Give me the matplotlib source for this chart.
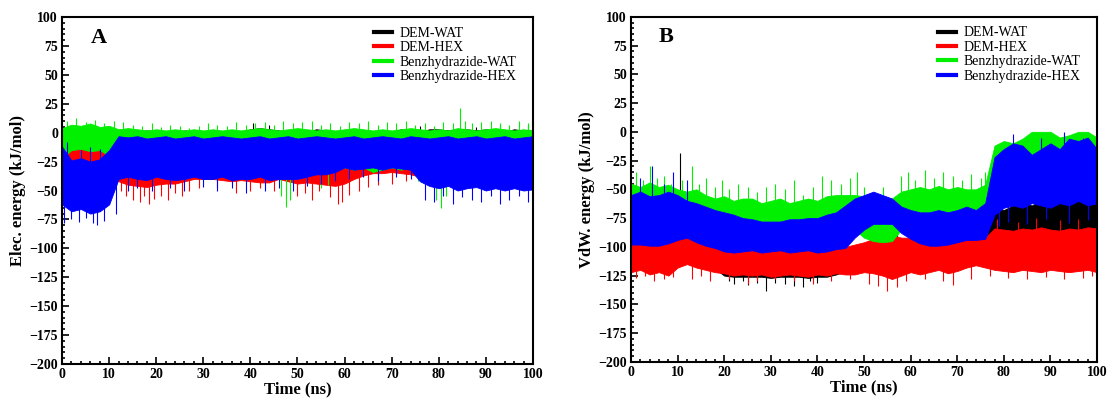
"""Electrostatic and VdW interaction energies over 100 ns MD runs."""

import matplotlib.pyplot as plt
import numpy as np
from matplotlib.ticker import MultipleLocator

plt.rcParams["font.family"] = ["Liberation Serif", "DejaVu Serif"]

# time grid (ns) shared by every envelope below
TIME_NS = list(range(0, 101, 2))

LABELS = ["DEM-WAT", "DEM-HEX", "Benzhydrazide-WAT", "Benzhydrazide-HEX"]
COLORS = ["#000000", "#ff0000", "#00f000", "#0000ff"]

# ---- panel A: electrostatic energy, dense band (lo/hi) + single spikes ----
ELEC_WAT_DEM_HI = [1, 2, 3, 2, 3, 3, 2, 3, 1, 2, 1, 0, 1, 2, 1, 0, 0, 1, 2, 1,
                   3, 4, 3, 2, 1, 2, 1, 3, 2, 1, 2, 1, 0, 1, 2, 1, 3, 2, 1, 3,
                   3, 2, 3, 3, 2, 3, 2, 1, 3, 2, 2]
ELEC_WAT_DEM_LO = [-30] * 51
ELEC_WAT_DEM_SPK_T = [40.5, 44, 65, 76, 88, 93, 99]
ELEC_WAT_DEM_SPK_V = [8, 7, 5, 6, 5, 6, 7]

ELEC_HEX_DEM_HI = [-8, -10, -8, -9, -7, -6, -4, -3, -4, -3, -4, -3, -3, -4,
                   -3, -3, -4, -3, -3, -4, -3, -3, -4, -3, -3, -4, -3, -3, -4,
                   -3, -3, -4, -3, -3, -4, -3, -3, -4, -3, -6, -8, -3, -4, -3,
                   -3, -4, -3, -5, -3, -4, -5]
ELEC_HEX_DEM_LO = [-38, -35, -40, -36, -38, -30, -42, -45, -46, -47, -45, -44,
                   -44, -42, -40, -40, -40, -41, -42, -41, -42, -43, -43, -40,
                   -42, -44, -43, -44, -45, -46, -44, -40, -37, -35, -35, -34,
                   -35, -36, -38, -40, -42, -40, -44, -42, -40, -44, -42, -42,
                   -44, -43, -40]
ELEC_HEX_DEM_SPK_T = [2.5, 5.5, 8.5, 9.3,
                      12.5, 13.5, 15, 16.5, 17.5, 18.5, 19.5, 21, 22.5, 24,
                      25.5, 27, 29, 33, 37, 40, 42, 45, 50, 51.5, 53, 54.5,
                      57, 58.5, 59.5, 61, 63, 65, 67, 70, 73]
ELEC_HEX_DEM_SPK_V = [-28, -30, -35, -33,
                      -50, -55, -58, -60, -55, -62, -57, -55, -58, -52, -55,
                      -50, -48, -47, -52, -50, -48, -50, -55, -52, -58, -50,
                      -56, -62, -60, -54, -50, -47, -45, -44, -42]

ELEC_WAT_BZ_HI = [4, 7, 6, 8, 5, 6, 3, 4, 3, 2, 3, 2, 3, 2, 3, 2, 3, 2, 3, 2,
                  3, 4, 3, 2, 3, 4, 3, 2, 3, 2, 3, 4, 3, 2, 3, 2, 3, 4, 3, 2,
                  3, 2, 4, 3, 2, 3, 4, 3, 2, 3, 2]
ELEC_WAT_BZ_LO = [-22, -15, -14, -16, -15, -20, -30, -32, -30, -32, -30, -32,
                  -30, -32, -30, -34, -32, -30, -32, -34, -30, -32, -30, -38,
                  -40, -32, -30, -35, -34, -32, -30, -32, -30, -34, -32, -30,
                  -32, -30, -36, -38, -42, -38, -32, -30, -32, -34, -30, -32,
                  -30, -32, -30]
ELEC_WAT_BZ_SPK_T = [1, 3, 5, 7, 9, 11, 13, 15, 17, 19, 21, 23, 25, 27, 29,
                     31, 33, 35, 37, 39, 41, 43, 45, 47, 49, 51, 53, 55, 57,
                     59, 61, 63, 65, 67, 69, 71, 73, 75, 77, 79, 81, 83, 84.5,
                     85.5, 87, 89, 91, 93, 95, 97, 99,
                     46.5, 47.5, 48.5, 55, 56.5, 75.5, 79.5, 80.5, 81.5, 83,
                     86]
ELEC_WAT_BZ_SPK_V = [10, 13, 9, 11, 8, 10, 9, 7, 6, 8, 5, 7, 6, 4, 6, 8, 7,
                     6, 9, 7, 8, 9, 7, 10, 8, 9, 10, 7, 8, 6, 9, 8, 10, 7, 9,
                     8, 10, 7, 8, 6, 9, 8, 21, 10, 8, 9, 10, 8, 7, 10, 8,
                     -55, -64, -58, -48, -45, -42, -58, -65, -55, -50, -45]

ELEC_HEX_BZ_HI = [-12, -24, -22, -25, -23, -15, -3, -4, -3, -5, -4, -3, -5,
                  -4, -3, -5, -4, -3, -4, -5, -4, -3, -5, -4, -3, -5, -4, -3,
                  -4, -5, -4, -3, -5, -4, -3, -4, -5, -3, -4, -5, -4, -3, -5,
                  -4, -3, -5, -4, -3, -5, -4, -3]
ELEC_HEX_BZ_LO = [-62, -68, -66, -70, -68, -62, -40, -38, -40, -41, -38, -40,
                  -41, -40, -38, -40, -40, -38, -41, -40, -40, -38, -41, -40,
                  -40, -40, -38, -36, -36, -34, -30, -32, -31, -30, -32, -30,
                  -31, -32, -42, -46, -48, -46, -50, -48, -47, -50, -48, -50,
                  -48, -50, -49]
ELEC_HEX_BZ_SPK_T = [0.5, 2, 3.5, 5, 6.5, 7.5, 9, 11.5, 14, 16, 19, 23, 26,
                     30, 33, 36, 39, 43, 46, 49, 52, 55, 58, 61, 64, 67, 71,
                     74, 77, 79, 81, 83, 85, 87, 89, 91, 93, 95, 97, 99,
                     1, 4, 6, 8]
ELEC_HEX_BZ_SPK_V = [-78, -75, -77, -74, -78, -80, -76, -70, -50, -48, -50,
                     -48, -50, -47, -50, -48, -52, -50, -48, -50, -46, -44,
                     -42, -40, -38, -42, -38, -40, -58, -60, -55, -62, -56,
                     -58, -60, -55, -62, -58, -55, -60,
                     -8, -15, -12, -14]

# ---- panel B: VdW energy ----
VDW_WAT_DEM_HI = [-100, -100, -101, -100, -100, -96, -96, -99, -101, -103,
                  -106, -106, -106, -106, -106, -106, -106, -106, -106, -106,
                  -106, -106, -106, -106,
                  -103, -100, -97, -94, -94, -96, -97, -100, -100, -100, -99,
                  -97, -96, -96, -95,
                  -66, -68, -64, -62, -64, -60, -58, -56, -60, -54, -58, -56]
VDW_WAT_DEM_LO = [-119, -117, -121, -119, -122, -115, -112, -115, -117, -119,
                  -125, -126, -126, -126, -126, -127, -126, -126, -126, -127,
                  -126, -126, -124, -121,
                  -121, -119, -120, -122, -125, -122, -119, -121, -119, -117,
                  -120, -118, -115, -113, -115,
                  -112, -112, -112, -112, -112, -112, -112, -112, -112, -112,
                  -112, -112]
VDW_WAT_DEM_SPK_T = [10.5, 21, 22, 24, 25, 27, 29, 31, 33, 35, 37, 38.5, 40,
                     57, 79, 84, 90, 95, 97, 99]
VDW_WAT_DEM_SPK_V = [-18, -130, -132, -130, -133, -131, -138, -131, -132,
                     -134, -135, -130, -131, -58, -55, -52, -50, -45, -50,
                     -48]

VDW_HEX_DEM_HI = [-97, -97, -98, -98, -96, -93, -91, -95, -98, -100,
                  -103, -104, -103, -102, -104, -103, -102, -104, -103, -102,
                  -104, -103, -101, -100,
                  -98, -96, -93, -90, -90, -92, -92, -96, -98, -98, -97, -95,
                  -93, -93, -92,
                  -84, -85, -86, -84, -85, -83, -85, -86, -84, -85, -83, -84]
VDW_HEX_DEM_LO = [-122, -120, -124, -122, -125, -118, -115, -118, -120, -122,
                  -123, -125, -124, -125, -124, -126, -125, -124, -125, -126,
                  -124, -125, -123, -124,
                  -124, -122, -123, -125, -128, -125, -122, -124, -122, -120,
                  -123, -121, -118, -116, -118,
                  -120, -121, -122, -120, -121, -122, -120, -121, -122, -121,
                  -120, -122]
VDW_HEX_DEM_SPK_T = [1, 3, 5, 7, 9, 13, 15, 17, 21, 25, 27, 31, 35, 39, 43,
                     47, 51, 53, 55, 57, 59, 63, 67, 69, 73, 77, 81, 85, 89,
                     93, 97, 99,
                     78.5, 83, 87, 92, 96]
VDW_HEX_DEM_SPK_V = [-127, -125, -130, -128, -126, -128, -125, -130, -128,
                     -132, -130, -128, -130, -132, -130, -128, -132, -134,
                     -138, -135, -130, -128, -130, -133, -128, -125, -127,
                     -128, -126, -128, -127, -125,
                     -76, -78, -75, -77, -76]

VDW_WAT_BZ_HI = [-45, -48, -44, -48, -46, -50, -52, -50, -55, -58,
                 -56, -60, -58, -58, -62, -60, -58, -62, -60, -58, -60, -56,
                 -55, -55,
                 -55, -56, -60, -58, -58, -52, -50, -48, -50, -47, -50, -48,
                 -50, -50, -46,
                 -12, -8, -10, -6, 0, 0, 0, -5, -3, 0, 0, -5]
VDW_WAT_BZ_LO = [-80] * 24 + [-85, -92, -95, -96, -95, -85] + [-80] * 9 \
    + [-45] * 12
VDW_WAT_BZ_SPK_T = [1, 2.5, 4, 5.5, 7, 8.5, 11, 13, 14.5, 16, 18, 19.5, 21,
                    23, 25, 27, 29, 31, 33, 35, 37, 39, 41, 43, 45, 47, 48.5,
                    50, 52, 54, 58, 59.5, 61, 63, 65, 67, 69, 71, 73, 75, 76]
VDW_WAT_BZ_SPK_V = [-35, -42, -30, -40, -38, -45, -42, -30, -45, -40, -48,
                    -42, -50, -45, -48, -52, -48, -45, -50, -42, -55, -48,
                    -38, -42, -45, -40, -35, -48, -52, -48, -38, -35, -42,
                    -33, -40, -35, -38, -42, -37, -40, -35]

VDW_HEX_BZ_HI = [-55, -52, -56, -55, -52, -55, -60, -62, -65, -68,
                 -70, -72, -75, -76, -78, -78, -78, -76, -76, -75, -75, -72,
                 -70, -64,
                 -58, -55, -52, -55, -58, -65, -68, -70, -70, -68, -70, -68,
                 -65, -68, -62,
                 -22, -15, -10, -12, -20, -15, -10, -15, -6, -8, -5, -15]
VDW_HEX_BZ_LO = [-98, -98, -99, -99, -97, -94, -92, -96, -99, -101,
                 -104, -105, -104, -103, -105, -104, -103, -105, -104, -103,
                 -105, -104, -102, -101,
                 -92, -85, -80, -80, -80, -88, -93, -97, -99, -99, -98, -96,
                 -94, -94, -93,
                 -72, -66, -64, -66, -62, -64, -66, -62, -64, -60, -64, -62]
VDW_HEX_BZ_SPK_T = [2, 4.5, 7, 9, 12, 82, 88, 93, 97,
                    79, 81, 85, 89, 94, 98]
VDW_HEX_BZ_SPK_V = [-40, -30, -45, -35, -42, -2, -5, 0, -5,
                    -82, -78, -80, -76, -79, -77]

ELEC = [
    (ELEC_WAT_DEM_LO, ELEC_WAT_DEM_HI, ELEC_WAT_DEM_SPK_T, ELEC_WAT_DEM_SPK_V),
    (ELEC_HEX_DEM_LO, ELEC_HEX_DEM_HI, ELEC_HEX_DEM_SPK_T, ELEC_HEX_DEM_SPK_V),
    (ELEC_WAT_BZ_LO, ELEC_WAT_BZ_HI, ELEC_WAT_BZ_SPK_T, ELEC_WAT_BZ_SPK_V),
    (ELEC_HEX_BZ_LO, ELEC_HEX_BZ_HI, ELEC_HEX_BZ_SPK_T, ELEC_HEX_BZ_SPK_V),
]
VDW = [
    (VDW_WAT_DEM_LO, VDW_WAT_DEM_HI, VDW_WAT_DEM_SPK_T, VDW_WAT_DEM_SPK_V),
    (VDW_HEX_DEM_LO, VDW_HEX_DEM_HI, VDW_HEX_DEM_SPK_T, VDW_HEX_DEM_SPK_V),
    (VDW_WAT_BZ_LO, VDW_WAT_BZ_HI, VDW_WAT_BZ_SPK_T, VDW_WAT_BZ_SPK_V),
    (VDW_HEX_BZ_LO, VDW_HEX_BZ_HI, VDW_HEX_BZ_SPK_T, VDW_HEX_BZ_SPK_V),
]


def draw_panel(ax, series, ylabel, letter):
    t = np.array(TIME_NS)
    for i, ((lo, hi, spk_t, spk_v), color, label) in enumerate(
            zip(series, COLORS, LABELS)):
        lo, hi = np.array(lo), np.array(hi)
        z = 1 + i  # later series sit on top, spikes included
        ax.fill_between(t, lo, hi, color=color, lw=0.6, edgecolor=color,
                        zorder=z)
        # each spike starts from the middle of the band at the nearest sample
        idx = np.round(np.array(spk_t) / 2).astype(int)
        base = (lo[idx] + hi[idx]) / 2
        ax.vlines(spk_t, base, spk_v, color=color, lw=0.8, zorder=z)
        ax.plot([], [], color=color, lw=3, label=label)

    ax.set_xlim(0, 100)
    ax.set_ylim(-200, 100)
    ax.xaxis.set_major_locator(MultipleLocator(10))
    ax.xaxis.set_minor_locator(MultipleLocator(2))
    ax.yaxis.set_major_locator(MultipleLocator(25))
    ax.yaxis.set_minor_locator(MultipleLocator(5))
    ax.tick_params(which="both", direction="in", top=False, right=False,
                   width=1.2, labelsize=10, pad=3)
    ax.tick_params(which="major", length=5)
    ax.tick_params(which="minor", length=2.5)
    for lab in ax.get_xticklabels() + ax.get_yticklabels():
        lab.set_fontweight("bold")
    for spine in ax.spines.values():
        spine.set_linewidth(1.5)
        spine.set_zorder(10)

    ax.set_xlabel("Time (ns)", fontsize=12, fontweight="bold", labelpad=0)
    ax.set_ylabel(ylabel, fontsize=12, fontweight="bold", labelpad=2)
    ax.text(6, 82, letter, fontsize=16, fontweight="bold", va="center")
    leg = ax.legend(loc="upper right", frameon=False, fontsize=10,
                    handlelength=1.3, handletextpad=0.5, labelspacing=0.1,
                    borderaxespad=0.3, bbox_to_anchor=(0.985, 1.0))
    leg.set_zorder(10)


fig = plt.figure(figsize=(11.08, 3.99), dpi=100)
ax_a = fig.add_axes([0.056, 0.088, 0.425, 0.869])
ax_b = fig.add_axes([0.5695, 0.093, 0.4206, 0.865])

draw_panel(ax_a, ELEC, "Elec. energy (kJ/mol)", "A")
draw_panel(ax_b, VDW, "VdW. energy (kJ/mol)", "B")

fig.savefig("out.png", dpi=100)
